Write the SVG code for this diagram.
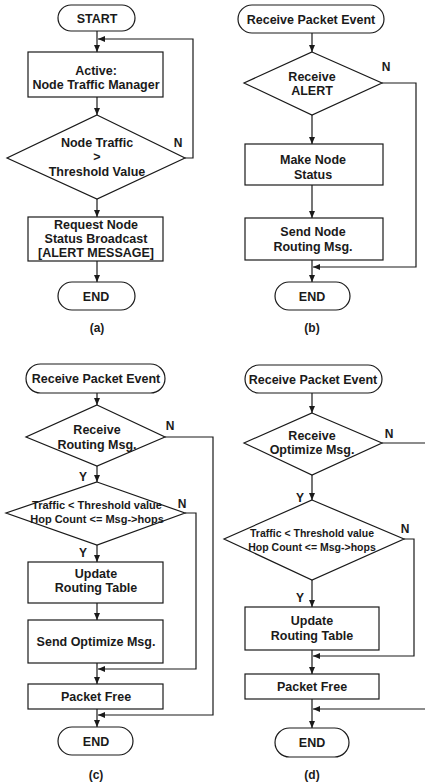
<svg xmlns="http://www.w3.org/2000/svg" width="425" height="784" viewBox="0 0 425 784">
<defs>
<marker id="ah" markerUnits="userSpaceOnUse" markerWidth="7" markerHeight="6" refX="7" refY="3" orient="auto">
<path d="M0,0 L7,3 L0,6 z" fill="#1a1a1a"/>
</marker>
</defs>
<style>
.s{fill:#fff;stroke:#1a1a1a;stroke-width:1.2}
.c{fill:none;stroke:#1a1a1a;stroke-width:1.2;marker-end:url(#ah)}
.l{fill:none;stroke:#1a1a1a;stroke-width:1.2}
text{font-family:"Liberation Sans",Arial,sans-serif;font-weight:bold;font-size:12.5px;fill:#1a1a1a;text-anchor:middle}
.sm{font-size:11px}
.sd{font-size:10.5px}
.lb{font-size:12px}
</style>
<rect width="425" height="784" fill="#fff"/>

<!-- Panel (a) -->
<g id="a_start"><rect class="s" x="58" y="5" width="77" height="26" rx="13"/><text x="97" y="22.5">START</text></g>
<g id="a_active"><rect class="s" x="28" y="52" width="135" height="45"/><text x="96" y="74.5">Active:</text><text x="96" y="88.5">Node Traffic Manager</text></g>
<g id="a_dec"><polygon class="s" points="97,115 185,158 97,199 7,158"/><text x="97" y="147">Node Traffic</text><text x="97" y="161">&gt;</text><text x="97" y="176">Threshold Value</text></g>
<g id="a_req"><rect class="s" x="28" y="217" width="135" height="44"/><text x="96" y="228.5">Request Node</text><text x="96" y="242.5">Status Broadcast</text><text x="96" y="257">[ALERT MESSAGE]</text></g>
<g id="a_end"><rect class="s" x="58" y="282" width="77" height="28" rx="14"/><text x="96" y="300.5">END</text></g>
<text class="lb" x="97" y="332">(a)</text>

<!-- Panel (b) -->
<g id="b_start"><rect class="s" x="238" y="5" width="146" height="28" rx="14"/><text x="311" y="24">Receive Packet Event</text></g>
<g id="b_dec"><polygon class="s" points="312,52 382,83 312,115 244,83"/><text x="312" y="81">Receive</text><text x="312" y="95">ALERT</text></g>
<g id="b_make"><rect class="s" x="245" y="144" width="138" height="41"/><text x="313" y="164">Make Node</text><text x="313" y="179">Status</text></g>
<g id="b_send"><rect class="s" x="245" y="218" width="138" height="42"/><text x="313" y="236">Send Node</text><text x="313" y="250.5">Routing Msg.</text></g>
<g id="b_end"><rect class="s" x="275" y="282" width="75" height="28" rx="14"/><text x="312" y="300.5">END</text></g>
<text class="lb" x="312" y="332">(b)</text>

<!-- Panel (c) -->
<g id="c_start"><rect class="s" x="26" y="364" width="139" height="29" rx="14.5"/><text x="96" y="383">Receive Packet Event</text></g>
<g id="c_dec1"><polygon class="s" points="97,405 165,437 97,466 26,437"/><text x="97" y="434">Receive</text><text x="97" y="449">Routing Msg.</text></g>
<g id="c_dec2"><polygon class="s" points="97,482 185,513 97,545 6,513"/><text class="sm" x="97" y="509">Traffic &lt; Threshold value</text><text class="sm" x="97" y="522.5">Hop Count &lt;= Msg-&gt;hops</text></g>
<g id="c_update"><rect class="s" x="28" y="562" width="135" height="41"/><text x="96" y="577.5">Update</text><text x="96" y="592">Routing Table</text></g>
<g id="c_send"><rect class="s" x="28" y="620" width="135" height="43"/><text x="96" y="646">Send Optimize Msg.</text></g>
<g id="c_free"><rect class="s" x="28" y="684" width="135" height="25"/><text x="96" y="701">Packet Free</text></g>
<g id="c_end"><rect class="s" x="58" y="727" width="75" height="28" rx="14"/><text x="96" y="746">END</text></g>
<text class="lb" x="96" y="779">(c)</text>

<!-- Panel (d) -->
<g id="d_start"><rect class="s" x="245" y="365" width="137" height="28" rx="14"/><text x="313" y="383.5">Receive Packet Event</text></g>
<g id="d_dec1"><polygon class="s" points="312,413 382,443 312,475 244,443"/><text x="312" y="439.5">Receive</text><text x="312" y="454">Optimize Msg.</text></g>
<g id="d_dec2"><polygon class="s" points="312,500 404,539 312,580 224,539"/><text class="sd" x="312" y="537">Traffic &lt; Threshold value</text><text class="sd" x="312" y="551">Hop Count &lt;= Msg-&gt;hops</text></g>
<g id="d_update"><rect class="s" x="245" y="607" width="134" height="43"/><text x="312" y="625">Update</text><text x="312" y="639.5">Routing Table</text></g>
<g id="d_free"><rect class="s" x="245" y="674" width="134" height="25"/><text x="312" y="691">Packet Free</text></g>
<g id="d_end"><rect class="s" x="275" y="728" width="74" height="29" rx="14.5"/><text x="312" y="746.5">END</text></g>
<text class="lb" x="312" y="779">(d)</text>

<g id="connectors">
<!-- a -->
<path class="c" d="M97,31 V52"/>
<path class="c" d="M185,158 H193 V39 H98"/>
<path class="c" d="M97,97 V115"/>
<path class="c" d="M97,199 V217"/>
<path class="c" d="M97,261 V282"/>
<text class="lb" x="178" y="146.5">N</text>
<!-- b -->
<path class="c" d="M312,33 V52"/>
<path class="c" d="M312,115 V144"/>
<path class="c" d="M312,185 V218"/>
<path class="c" d="M312,260 V282"/>
<path class="c" d="M382,83 H416 V267 H313"/>
<text class="lb" x="386" y="71">N</text>
<!-- c -->
<path class="c" d="M97,393 V405"/>
<path class="c" d="M97,466 V482"/>
<path class="c" d="M97,545 V562"/>
<path class="c" d="M97,603 V620"/>
<path class="c" d="M97,663 V684"/>
<path class="c" d="M97,709 V727"/>
<path class="c" d="M165,437 H213 V715 H98"/>
<path class="c" d="M185,513 H196 V669 H98"/>
<text class="lb" x="170" y="429.5">N</text>
<text class="lb" x="83" y="480.5">Y</text>
<text class="lb" x="182" y="507.5">N</text>
<text class="lb" x="83" y="556.5">Y</text>
<!-- d -->
<path class="c" d="M312,393 V413"/>
<path class="c" d="M312,475 V500"/>
<path class="c" d="M312,580 V607"/>
<path class="c" d="M312,650 V674"/>
<path class="c" d="M312,699 V728"/>
<path class="c" d="M382,443 H430 V709 H313"/>
<path class="c" d="M404,539 H414 V656 H313"/>
<text class="lb" x="389" y="437.5">N</text>
<text class="lb" x="300" y="501.5">Y</text>
<text class="lb" x="405" y="532.5">N</text>
<text class="lb" x="300" y="601.5">Y</text>
</g>
</svg>
